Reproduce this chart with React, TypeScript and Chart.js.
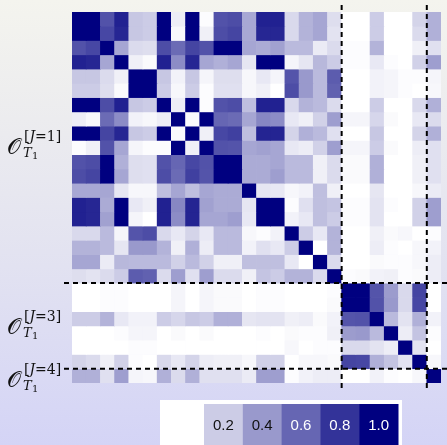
import React, { useEffect, useRef } from 'react';
import { Chart, registerables } from 'chart.js';
Chart.register(...registerables);

// Group structure (rows/columns of the symmetric matrix)
const groupLabels = ['[J=1]', '[J=3]', '[J=4]'];
const groupSizes = [19, 6, 1];
const colorbarTicks = [0.2, 0.4, 0.6, 0.8, 1.0];

// Upper triangle of the symmetric matrix: row i holds values for columns i..25
const u0 = [1, 1, .68, .87, .22, .2, 1, .07, 1, .01, .68, .7, .34, .87, .87, .15, .3, .35, .13, 0, 0, .2, 0, 0, .17, .31];
const u1 = [1, .72, .85, .22, .2, 1, .03, 1, .06, .7, .73, .34, .85, .85, .15, .3, .35, .11, 0, 0, .2, 0, 0, .14, .31];
const u2 = [1, .35, .14, .13, .7, .58, .73, .68, 1, 1, .35, .33, .37, .27, .27, .08, .14, .01, .01, .3, 0, 0, .06, .12];
const u3 = [1, .06, .02, .87, .45, .85, .35, .31, .35, .1, 1, 1, .04, .1, .28, .2, .01, .01, .09, .01, 0, .18, .38];
const u4 = [1, 1, .22, .05, .22, .04, .13, .13, .03, .09, .04, .67, .4, .27, .64, 0, 0, .05, .04, .01, .01, .04];
const u5 = [1, .2, .03, .2, .01, .12, .12, .03, .06, 0, .7, .4, .27, .62, 0, 0, .05, .04, .01, 0, .03];
const u6 = [1, .07, 1, .01, .68, .7, .25, .87, .87, .15, .3, .27, .14, 0, 0, .2, 0, 0, .15, .31];
const u7 = [1, .02, 1, .6, .58, .35, .47, .45, .09, .06, .18, .38, .04, .04, .16, .02, 0, .09, .14];
const u8 = [1, .06, .72, .75, .25, .86, .86, .17, .31, .27, .12, 0, 0, .22, 0, 0, .17, .31];
const u9 = [1, .68, .67, .35, .37, .35, .09, .07, .18, .38, .04, .04, .2, .02, 0, .07, .12];
const u10 = [1, 1, .33, .33, .35, .27, .27, .06, .14, .02, .02, .31, 0, 0, .06, .12];
const u11 = [1, .33, .33, .38, .27, .27, .06, .14, .02, .02, .31, 0, 0, .06, .12];
const u12 = [1, .1, .09, .03, .05, .25, .06, 0, 0, .1, 0, 0, .03, .08];
const u13 = [1, 1, .01, .12, .25, .23, .01, .01, .11, .01, 0, .18, .38];
const u14 = [1, .05, .09, .25, .2, .01, .01, .11, 0, 0, .18, .38];
const u15 = [1, .2, .09, .3, 0, 0, .06, .02, .03, 0, .01];
const u16 = [1, 0, .3, 0, 0, .07, .01, 0, .03, .05];
const u17 = [1, .14, 0, 0, .02, .01, .01, .03, .07];
const u18 = [1, .01, .02, .05, .06, .01, .02, .07];
const u19 = [1, 1, .67, .39, .15, .73, 0];
const u20 = [1, .68, .4, .15, .72, 0];
const u21 = [1, .27, .11, .31, .05];
const u22 = [1, .07, .23, .01];
const u23 = [1, .11, 0];
const u24 = [1, .03];
const u25 = [1];

const upperRows = [u0, u1, u2, u3, u4, u5, u6, u7, u8, u9, u10, u11, u12, u13, u14, u15, u16, u17, u18, u19, u20, u21, u22, u23, u24, u25];
const N = upperRows.length;
const matrix: number[][] = Array.from({ length: N }, (_, i) =>
  Array.from({ length: N }, (_, j) => (j >= i ? upperRows[i][j - i] : upperRows[j][i - j]))
);
const colLabels = Array.from({ length: N }, (_, i) => String(i));

// small vertical nudges of the group labels (px)
const labelNudge = [-2, 0, 3];

function cmap(v: number) {
  const r = Math.round(255 * (1 - v));
  const b = Math.round(255 - 127 * v);
  return `rgb(${r},${r},${b})`;
}

const bgPlugin = {
  id: 'bg',
  beforeDraw(chart: any) {
    const { ctx, width, height } = chart;
    ctx.save();
    const g = ctx.createLinearGradient(0, 0, 0, height);
    g.addColorStop(0, '#f4f4ee');
    g.addColorStop(0.3, '#ebebef');
    g.addColorStop(0.6, '#e2e2f1');
    g.addColorStop(1, '#d4d4f6');
    ctx.fillStyle = g;
    ctx.fillRect(0, 0, width, height);
    ctx.restore();
  },
};

const overlayPlugin = {
  id: 'overlay',
  afterDatasetsDraw(chart: any) {
    const { ctx, width, scales } = chart;
    const xs = scales.x;
    const ys = scales.y;
    const half = (xs.getPixelForValue(1) - xs.getPixelForValue(0)) / 2;
    ctx.save();
    ctx.strokeStyle = '#000';
    ctx.lineWidth = 2;
    ctx.setLineDash([5, 4]);
    let acc = 0;
    for (let g = 0; g < groupSizes.length - 1; g++) {
      acc += groupSizes[g];
      const px = xs.getPixelForValue(acc) - half;
      const py = ys.getPixelForValue(acc);
      ctx.beginPath();
      ctx.moveTo(px, 5);
      ctx.lineTo(px, 391);
      ctx.stroke();
      ctx.beginPath();
      ctx.moveTo(64, py);
      ctx.lineTo(width, py);
      ctx.stroke();
    }
    ctx.restore();
  },
  afterDraw(chart: any) {
    const { ctx, scales } = chart;
    const ys = scales.y;
    ctx.save();
    // group labels
    let acc = 0;
    groupSizes.forEach((sz, g) => {
      const cy = (ys.getPixelForValue(acc) + ys.getPixelForValue(acc + sz)) / 2 + labelNudge[g];
      acc += sz;
      ctx.fillStyle = '#111';
      ctx.textAlign = 'left';
      ctx.textBaseline = 'alphabetic';
      ctx.font = '22px "DejaVu Serif", serif';
      ctx.fillText('\u{1D4AA}', 7, cy + 8);
      ctx.font = '14px "DejaVu Serif", serif';
      ctx.fillText('[', 24, cy - 5);
      let x = 24 + ctx.measureText('[').width;
      ctx.font = 'italic 14px "DejaVu Serif", serif';
      ctx.fillText('J', x, cy - 5);
      x += ctx.measureText('J').width;
      ctx.font = '14px "DejaVu Serif", serif';
      const rest = groupLabels[g].slice(2);
      ctx.fillText(rest, x, cy - 5);
      ctx.font = 'italic 13px "DejaVu Serif", serif';
      ctx.fillText('T', 23, cy + 11);
      ctx.font = '10px "DejaVu Serif", serif';
      ctx.fillText('1', 32, cy + 13);
    });
    // colour bar legend
    ctx.fillStyle = '#ffffff';
    ctx.fillRect(160, 400, 242, 50);
    const cw = 38.8;
    colorbarTicks.forEach((t, i) => {
      const x0 = 204 + i * cw;
      ctx.fillStyle = cmap(t);
      ctx.fillRect(x0, 404, cw + 0.5, 46);
      ctx.fillStyle = t > 0.5 ? '#ffffff' : '#111111';
      ctx.font = '15px "Liberation Sans", Arial, sans-serif';
      ctx.textAlign = 'center';
      ctx.textBaseline = 'alphabetic';
      ctx.fillText(t.toFixed(1), x0 + cw / 2, 430);
    });
    ctx.restore();
  },
};

export default function App() {
  const ref = useRef<HTMLCanvasElement>(null);
  useEffect(() => {
    if (!ref.current) return;
    const chart = new Chart(ref.current, {
      type: 'bar',
      data: {
        labels: colLabels,
        datasets: matrix.map((row, r) => ({
          label: 'row ' + r,
          data: row.map(() => [r, r + 1]),
          backgroundColor: row.map(cmap),
          borderWidth: 0,
          grouped: false,
          barPercentage: 1,
          categoryPercentage: 1,
        })) as any,
      },
      options: {
        responsive: false,
        animation: false,
        layout: { padding: { left: 72, top: 12, right: 6, bottom: 62 } },
        scales: {
          x: { display: false },
          y: { display: false, min: 0, max: N, reverse: true },
        },
        plugins: { legend: { display: false }, tooltip: { enabled: false } },
      },
      plugins: [bgPlugin, overlayPlugin],
    });
    return () => chart.destroy();
  }, []);
  return (
    <div style={{ position: 'absolute', left: 0, top: 0, width: 447, height: 445 }}>
      <canvas ref={ref} width={447} height={445} style={{ display: 'block' }} />
    </div>
  );
}
